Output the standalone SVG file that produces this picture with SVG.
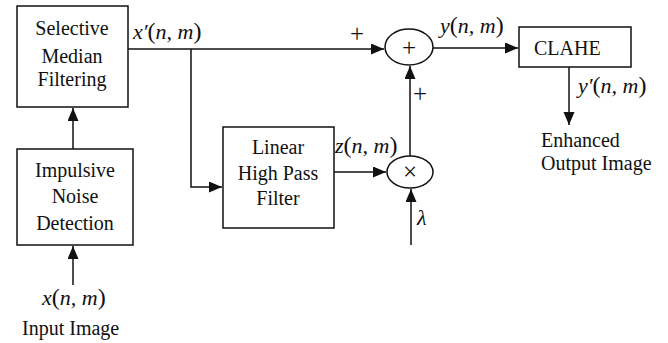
<svg xmlns="http://www.w3.org/2000/svg" width="668" height="343" viewBox="0 0 668 343">
<style>
.box{fill:#fff;stroke:#111;stroke-width:1.5}
.ln{fill:none;stroke:#111;stroke-width:1.5}
.t{font-family:"Liberation Serif",serif;font-size:20px;fill:#111}
.m{font-family:"Liberation Serif",serif;font-size:22px;fill:#111;font-style:italic}
.p{font-style:normal;font-size:24px}
.c{text-anchor:middle}
.s{font-family:"Liberation Serif",serif;font-size:25px;fill:#111;text-anchor:middle}
</style>
<defs>
<marker id="ah" markerUnits="userSpaceOnUse" markerWidth="14" markerHeight="12" refX="13" refY="5.5" orient="auto">
<path d="M0,0 L13,5.5 L0,11 z" fill="#111"/>
</marker>
</defs>
<g id="connectors">
<path class="ln" d="M73,285 V246" marker-end="url(#ah)"/>
<path class="ln" d="M73,149 V108" marker-end="url(#ah)"/>
<path class="ln" d="M128,49 H384" marker-end="url(#ah)"/>
<path class="ln" d="M191,49 V187 H222" marker-end="url(#ah)"/>
<path class="ln" d="M334,172 H386" marker-end="url(#ah)"/>
<path class="ln" d="M411,245 V189" marker-end="url(#ah)"/>
<path class="ln" d="M410,156 V66" marker-end="url(#ah)"/>
<path class="ln" d="M433,48 H518" marker-end="url(#ah)"/>
<path class="ln" d="M569,67 V125" marker-end="url(#ah)"/>
</g>
<g id="selective-median">
<rect class="box" x="17" y="6" width="111" height="101"/>
<text class="t c" x="72" y="35">Selective</text>
<text class="t c" x="72" y="63">Median</text>
<text class="t c" x="72" y="86">Filtering</text>
</g>
<g id="impulsive-noise">
<rect class="box" x="17" y="149" width="116" height="96"/>
<text class="t c" x="75" y="177">Impulsive</text>
<text class="t c" x="75" y="203">Noise</text>
<text class="t c" x="75" y="230">Detection</text>
</g>
<g id="highpass">
<rect class="box" x="223" y="127" width="111" height="101"/>
<text class="t c" x="278" y="154">Linear</text>
<text class="t c" x="278" y="180">High Pass</text>
<text class="t c" x="278" y="205">Filter</text>
</g>
<g id="sum">
<ellipse class="box" cx="409" cy="47" rx="24" ry="18"/>
<text class="s" x="409" y="56">+</text>
</g>
<g id="mult">
<ellipse class="box" cx="410" cy="172" rx="23" ry="16"/>
<text class="s" x="410" y="180">×</text>
</g>
<g id="clahe">
<rect class="box" x="519" y="27" width="112" height="40"/>
<text class="t" x="534" y="55">CLAHE</text>
</g>
<g id="labels">
<text class="m" x="133" y="39">x′<tspan class="p">(</tspan>n, m<tspan class="p">)</tspan></text>
<text class="m" x="42" y="305">x<tspan class="p">(</tspan>n, m<tspan class="p">)</tspan></text>
<text class="t" x="22" y="335">Input Image</text>
<text class="m" x="335" y="153">z<tspan class="p">(</tspan>n, m<tspan class="p">)</tspan></text>
<text class="m" x="417" y="225">λ</text>
<text class="m" x="440" y="33">y<tspan class="p">(</tspan>n, m<tspan class="p">)</tspan></text>
<text class="m" x="578" y="93">y′<tspan class="p">(</tspan>n, m<tspan class="p">)</tspan></text>
<text class="s" x="357" y="42">+</text>
<text class="s" x="420" y="102">+</text>
<text class="t" x="541" y="147">Enhanced</text>
<text class="t" x="541" y="170">Output Image</text>
</g>
</svg>
